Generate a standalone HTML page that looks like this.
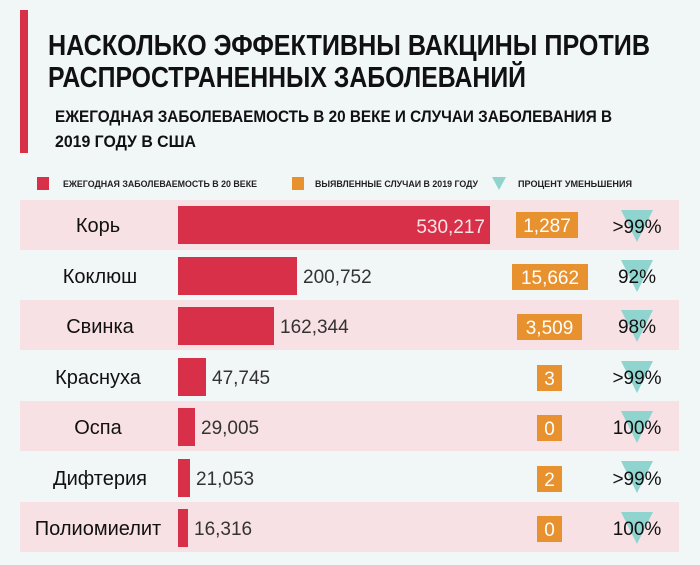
<!DOCTYPE html>
<html><head><meta charset="utf-8"><style>
html,body{margin:0;padding:0;background:#f1f6f7}
svg{display:block}
</style></head><body>
<svg width="700" height="565" viewBox="0 0 700 565" xmlns="http://www.w3.org/2000/svg" font-family="Liberation Sans, DejaVu Sans, sans-serif">
<rect width="700" height="565" fill="#f1f6f7"/>
<rect x="20" y="10" width="8" height="143" fill="#d9304a"/>
<g font-weight="bold" fill="#111">
<text x="48" y="55" font-size="29" textLength="602" lengthAdjust="spacingAndGlyphs">НАСКОЛЬКО ЭФФЕКТИВНЫ ВАКЦИНЫ ПРОТИВ</text>
<text x="48" y="87" font-size="29" textLength="478" lengthAdjust="spacingAndGlyphs">РАСПРОСТРАНЕННЫХ ЗАБОЛЕВАНИЙ</text>
<text x="55" y="122" font-size="17" textLength="557" lengthAdjust="spacingAndGlyphs">ЕЖЕГОДНАЯ ЗАБОЛЕВАЕМОСТЬ В 20 ВЕКЕ И СЛУЧАИ ЗАБОЛЕВАНИЯ В</text>
<text x="55" y="147" font-size="17" textLength="141" lengthAdjust="spacingAndGlyphs">2019 ГОДУ В США</text>
<g font-size="9" fill="#222">
<text x="63" y="187" textLength="194" lengthAdjust="spacingAndGlyphs">ЕЖЕГОДНАЯ ЗАБОЛЕВАЕМОСТЬ В 20 ВЕКЕ</text>
<text x="315" y="187" textLength="163" lengthAdjust="spacingAndGlyphs">ВЫЯВЛЕННЫЕ СЛУЧАИ В 2019 ГОДУ</text>
<text x="518" y="187" textLength="114" lengthAdjust="spacingAndGlyphs">ПРОЦЕНТ УМЕНЬШЕНИЯ</text>
</g>
</g>
<rect x="37" y="177" width="12" height="13" fill="#d9304a"/>
<rect x="292" y="177" width="12" height="13" fill="#e8912f"/>
<polygon points="492,177 506,177 499,190" fill="#8fd4cf"/>

<g>
<rect x="20" y="200" width="659" height="50" fill="#f8e1e4"/>
<rect x="20" y="300" width="659" height="50" fill="#f8e1e4"/>
<rect x="20" y="401" width="659" height="50" fill="#f8e1e4"/>
<rect x="20" y="502" width="659" height="50" fill="#f8e1e4"/>
</g>
<g fill="#d9304a">
<rect x="178" y="206" width="312" height="38"/>
<rect x="178" y="257" width="119" height="38"/>
<rect x="178" y="307" width="96" height="38"/>
<rect x="178" y="358" width="28" height="38"/>
<rect x="178" y="408" width="17" height="38"/>
<rect x="178" y="459" width="12" height="38"/>
<rect x="178" y="509" width="10" height="38"/>
</g>
<g font-size="20" fill="#111" text-anchor="middle">
<text x="98" y="232">Корь</text>
<text x="100" y="283">Коклюш</text>
<text x="100" y="333">Свинка</text>
<text x="98" y="384">Краснуха</text>
<text x="98" y="434">Оспа</text>
<text x="100" y="485">Дифтерия</text>
<text x="98" y="535">Полиомиелит</text>
</g>
<g font-size="19" fill="#333">
<text x="485" y="233" text-anchor="end" fill="#fbe3e6">530,217</text>
<text x="303" y="283">200,752</text>
<text x="280" y="333">162,344</text>
<text x="212" y="384">47,745</text>
<text x="201" y="434">29,005</text>
<text x="196" y="485">21,053</text>
<text x="194" y="535">16,316</text>
</g>
<g fill="#e8912f">
<rect x="516" y="212" width="62" height="26"/>
<rect x="512" y="264" width="76" height="26"/>
<rect x="517" y="314" width="65" height="26"/>
<rect x="537" y="365" width="25" height="26"/>
<rect x="537" y="415" width="25" height="26"/>
<rect x="537" y="466" width="25" height="26"/>
<rect x="537" y="516" width="25" height="26"/>
</g>
<g font-size="19" fill="#fff" text-anchor="middle">
<text x="547" y="232">1,287</text>
<text x="550" y="284">15,662</text>
<text x="549.5" y="334">3,509</text>
<text x="549.5" y="385">3</text>
<text x="549.5" y="435">0</text>
<text x="549.5" y="486">2</text>
<text x="549.5" y="536">0</text>
</g>
<g fill="#8fd4cf">
<polygon points="621,210 653,210 637,242"/>
<polygon points="621,260 653,260 637,292"/>
<polygon points="621,310 653,310 637,342"/>
<polygon points="621,361 653,361 637,393"/>
<polygon points="621,411 653,411 637,443"/>
<polygon points="621,461 653,461 637,493"/>
<polygon points="621,512 653,512 637,544"/>
</g>
<g font-size="19" fill="#111" text-anchor="middle">
<text x="637" y="233">&gt;99%</text>
<text x="637" y="283">92%</text>
<text x="637" y="333">98%</text>
<text x="637" y="384">&gt;99%</text>
<text x="637" y="434">100%</text>
<text x="637" y="485">&gt;99%</text>
<text x="637" y="535">100%</text>
</g>
</svg>
</body></html>
